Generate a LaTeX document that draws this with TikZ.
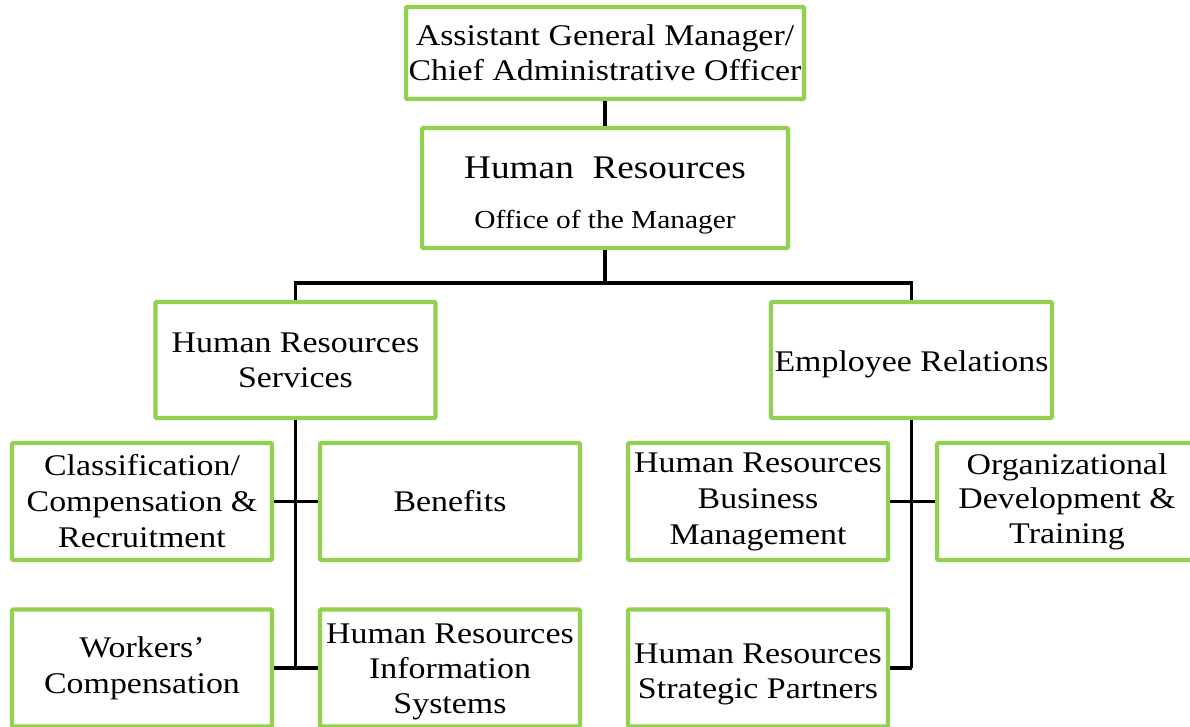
\documentclass[tikz,border=0pt]{standalone}
\usepackage{fontspec}
\setmainfont{Liberation Serif}[FakeStretch=1.13]
\usetikzlibrary{calc}
\definecolor{boxgreen}{RGB}{146,208,80}
\tikzset{
  box/.style={draw=boxgreen, line width=4.2pt, fill=white, align=center,
    inner sep=0pt, rounded corners=1pt, font=\fontsize{30}{36}\selectfont},
  small/.style={box, minimum width=260pt, minimum height=117pt},
  conn/.style={draw=black, line width=3.6pt}
}
\begin{document}
\begin{tikzpicture}[x=1pt,y=-1pt]
\useasboundingbox (0,0) rectangle (1190,727);
\node[box, minimum width=398pt, minimum height=92pt, font=\fontsize{30}{35}\selectfont] (top) at (605,53)
  {Assistant General Manager/\\Chief Administrative Officer};
\node[box, minimum width=366pt, minimum height=120pt, font=\fontsize{33}{50}\selectfont] (hr) at (605,188)
  {\rule{0pt}{36pt}Human\ \ Resources\\{\fontsize{26}{50}\selectfont Office of the Manager}};
\node[box, minimum width=280pt, minimum height=116pt, font=\fontsize{30}{35}\selectfont] (hrs) at (295.5,360)
  {Human Resources\\Services};
\node[box, minimum width=281pt, minimum height=116pt] (er) at (911.5,360)
  {\rule{0pt}{28.5pt}Employee Relations};
\node[small] (cc) at (142,501.5) {Classification/\\Compensation \&\\Recruitment};
\node[small] (ben) at (450,501.5) {Benefits};
\node[small] (wc) at (142,668) {Workers’\\Compensation};
\node[small, font=\fontsize{30}{35}\selectfont] (hris) at (450,668) {\rule{0pt}{27pt}Human Resources\\Information\\Systems};
\node[small] (bm) at (758,501.5) {Human Resources\\Business\\Management};
\node[small, font=\fontsize{30}{34.5}\selectfont] (od) at (1067,501.5) {Organizational\\Development \&\\Training};
\node[small, font=\fontsize{30}{35}\selectfont] (sp) at (758,668) {\rule{0pt}{32pt}Human Resources\\Strategic Partners};
\draw[conn] (top.south) -- (hr.north);
\coordinate (jn) at ($(hr.south)+(0,33)$);
\draw[conn] (hrs.north) |- (hr.south |- jn) -| (er.north);
\draw[conn] (hr.south) -- (hr.south |- jn);
\draw[conn] (hrs.south) -- (hrs.south |- wc.east);
\draw[conn] (cc.east) -- (ben.west);
\draw[conn] (wc.east) -- (hris.west);
\draw[conn] (er.south) -- (er.south |- sp.east);
\draw[conn] (bm.east) -- (od.west);
\draw[conn] (sp.east) -- (er.south |- sp.east);
\end{tikzpicture}
\end{document}
